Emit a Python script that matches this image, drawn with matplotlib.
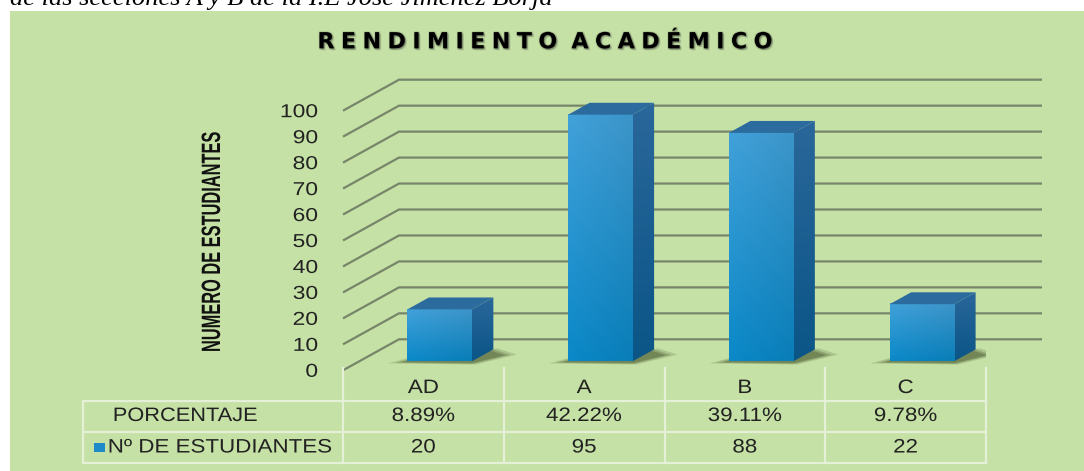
import numpy as np
import matplotlib
matplotlib.use('Agg')
import matplotlib.pyplot as plt
from matplotlib.patches import Polygon, Rectangle
from matplotlib.patheffects import AbstractPathEffect
from matplotlib.transforms import Affine2D, IdentityTransform, blended_transform_factory
from matplotlib.colors import to_rgb
from matplotlib.path import Path
from matplotlib.lines import Line2D

# ---------------- data ----------------
categories = ['AD', 'A', 'B', 'C']
students = [20, 95, 88, 22]
percentages = ['8.89%', '42.22%', '39.11%', '9.78%']
y_ticks = [0, 10, 20, 30, 40, 50, 60, 70, 80, 90, 100]
title = 'RENDIMIENTO ACADÉMICO'
y_label = 'NUMERO DE ESTUDIANTES'
row_labels = ['PORCENTAJE', 'Nº DE ESTUDIANTES']
caption = 'de las secciones A y B de la I.E José Jiménez Borja'

# ---------------- style ----------------
GREEN = '#C5E1A5'
GRID = '#77866a'
TABLE_LINE = '#e4f0d8'
TXT = '#222222'
FRONT_TOP, FRONT_BOT = '#3f9bd1', '#0a83c0'
SIDE_TOP, SIDE_BOT = '#2a679a', '#0b5587'
TOP_FACE = '#2c6b9d'
LEGEND_BLUE = '#1e8bc8'

plt.rcParams['font.family'] = ['Liberation Sans', 'DejaVu Sans']

W, H = 1084, 471
fig = plt.figure(figsize=(W / 100, H / 100), dpi=100)
fig.patch.set_facecolor('white')


def fx(x):
    return x / W


def fy(y):
    return 1 - y / H


class Stretch(AbstractPathEffect):
    """Draw text scaled along (sx) and across (sy) its baseline."""

    def __init__(self, sx=1.0, sy=1.0, anchor='center'):
        super().__init__()
        self.sx = sx
        self.sy = sy
        self.anchor = anchor

    def draw_path(self, renderer, gc, tpath, affine, rgbFace=None):
        ext = tpath.get_extents()
        if self.anchor == 'left':
            cx = ext.x0
        elif self.anchor == 'right':
            cx = ext.x1
        else:
            cx = (ext.x0 + ext.x1) / 2
        cy = (ext.y0 + ext.y1) / 2
        t = (Affine2D().translate(-cx, -cy).scale(self.sx, self.sy)
             .translate(cx, cy) + affine)
        renderer.draw_path(gc, tpath, t, rgbFace)


class LetterSpacing(AbstractPathEffect):
    """Add extra spacing between glyphs, with a soft shadow."""

    def __init__(self, spacing_px, shadow_color='#333333'):
        super().__init__()
        self.sp = spacing_px
        self.shadow_color = to_rgb(shadow_color)

    def draw_path(self, renderer, gc, tpath, affine, rgbFace=None):
        verts = affine.transform(tpath.vertices).copy()
        codes = tpath.codes
        starts = np.flatnonzero(codes == Path.MOVETO)
        bounds = list(zip(starts, list(starts[1:]) + [len(codes)]))
        ranges = [(verts[s:e, 0].min(), verts[s:e, 0].max()) for s, e in bounds]
        order = sorted(range(len(bounds)), key=lambda k: ranges[k][0])
        group = {}
        g = -1
        cur = -np.inf
        for k in order:
            x0, x1 = ranges[k]
            if x0 < cur - 1.0:
                cur = max(cur, x1)
            else:
                g += 1
                cur = x1
            group[k] = g
        ng = g + 1
        for k, (s, e) in enumerate(bounds):
            verts[s:e, 0] += (group[k] - (ng - 1) / 2) * self.sp
        path = Path(verts, codes)
        # soft shadow / blur
        for dx, dy, a in [(1.5, -1.5, 0.20), (0.8, -0.8, 0.25), (-0.8, 0.8, 0.12),
                          (1.5, 0.5, 0.15), (-0.5, -1.5, 0.15), (2.2, -2.2, 0.10)]:
            gc0 = renderer.new_gc()
            gc0.copy_properties(gc)
            gc0.set_alpha(a)
            gc0.set_linewidth(0)
            renderer.draw_path(gc0, path, Affine2D().translate(dx, dy), self.shadow_color)
            gc0.restore()
        renderer.draw_path(gc, path, IdentityTransform(), rgbFace)


# green panel
fig.add_artist(Rectangle((fx(10), 0), 1 - fx(10), fy(11), transform=fig.transFigure,
                         facecolor=GREEN, edgecolor='none', zorder=0))

# caption (cut at the top edge, as in the source)
fig.text(fx(10), fy(5), caption, ha='left', va='baseline', fontsize=19,
         style='italic', family='Liberation Serif', color='black')

# title
fig.text(fx(544.7), fy(48.3), title, ha='center', va='baseline', fontsize=16,
         fontweight='bold', family='DejaVu Sans', color='black',
         path_effects=[LetterSpacing(6.4)])

# y-axis label (condensed bold look)
fig.text(fx(212), fy(241.7), y_label, rotation=90, ha='center', va='center',
         fontsize=11.8, fontweight='bold', color='#111111',
         path_effects=[Stretch(sx=1.0, sy=1.62)])

# ---------------- axes (front plane) ----------------
Y0_PX, PX_PER_UNIT = 370.3, 2.596
X_LEFT_PX, COL_PX = 343.0, 160.75
YMAX = 115
ax = fig.add_axes([fx(X_LEFT_PX), fy(Y0_PX), 4 * COL_PX / W, YMAX * PX_PER_UNIT / H])
ax.patch.set_visible(False)
for s in ax.spines.values():
    s.set_visible(False)

# depth vector (front -> back wall), in data units
DX = 56 / COL_PX
DY = 31 / PX_PER_UNIT
PXX = 1 / COL_PX
PXY = 1 / PX_PER_UNIT

# back-wall gridlines
for v in y_ticks:
    ax.add_line(Line2D([-0.5, -0.5 + DX, 3.5 + DX], [v, v + DY, v + DY],
                       color=GRID, lw=1.6, clip_on=False, zorder=1,
                       solid_capstyle='butt'))


def grad_img(top, bottom, ny=64, nx=16, hshade=0.08):
    top = np.array(to_rgb(top))
    bottom = np.array(to_rgb(bottom))
    t = np.linspace(0, 1, ny)[:, None, None]
    c = bottom * (1 - t) + top * t
    h = np.linspace(0, 1, nx)[None, :, None]
    img = c * (1 + hshade * (0.5 - h))
    return np.clip(img, 0, 1)


front_img = grad_img(FRONT_TOP, FRONT_BOT)
side_img = grad_img(SIDE_TOP, SIDE_BOT, hshade=0.0)

F0 = 0.29      # depth of the bar front face
DEPTH = 0.384  # bar depth as fraction of floor depth
BW = 0.401     # bar width

for i, v in enumerate(students):
    x0 = i + F0 * DX - BW / 2
    x1 = x0 + BW
    yb = F0 * DY
    yt = v + yb
    ddx, ddy = DEPTH * DX, DEPTH * DY

    # soft floor shadow
    sh = np.array([(x0 - 12 * PXX, yb - 1.5 * PXY),
                   (x1 + 2 * PXX, yb - 2.5 * PXY),
                   (x1 + ddx + 17 * PXX, yb + ddy - 5.5 * PXY),
                   (x1 + ddx, yb + ddy),
                   (x0 + ddx * 0.3, yb + ddy * 0.3)])
    cen = sh.mean(axis=0)
    for f, a in [(1.12, 0.18), (1.0, 0.25), (0.9, 0.32)]:
        ax.add_patch(Polygon(cen + (sh - cen) * f, closed=True, facecolor='#3a4720',
                             edgecolor='none', alpha=a, zorder=2))

    # side face
    side = Polygon([(x1, yb), (x1 + ddx, yb + ddy), (x1 + ddx, yt + ddy), (x1, yt)],
                   closed=True, transform=ax.transData, facecolor='none', edgecolor='none')
    im = ax.imshow(side_img, extent=(x1, x1 + ddx, yb, yt + ddy), origin='lower',
                   aspect='auto', zorder=4, interpolation='bilinear')
    im.set_clip_path(side)

    # front face
    ax.imshow(front_img, extent=(x0, x1, yb, yt), origin='lower', aspect='auto',
              zorder=5, interpolation='bilinear')

    # top face
    ax.add_patch(Polygon([(x0, yt), (x1, yt), (x1 + ddx, yt + ddy), (x0 + ddx, yt + ddy)],
                         closed=True, facecolor=TOP_FACE, edgecolor='none', zorder=5))

ax.set_aspect('auto')
ax.set_xlim(-0.5, 3.5)
ax.set_ylim(0, YMAX)

ax.set_yticks(y_ticks)
ax.set_yticklabels([str(t) for t in y_ticks])
ax.tick_params(axis='y', length=0, pad=18, labelsize=13.5, labelcolor=TXT)
ax.set_xticks(range(len(categories)))
ax.set_xticklabels(categories)
ax.tick_params(axis='x', length=0, pad=7, labelsize=14, labelcolor=TXT)

# ---------------- data table ----------------
bt = blended_transform_factory(ax.transData, fig.transFigure)
for k in range(len(categories) + 1):
    xk = -0.5 + k
    ax.add_line(Line2D([xk, xk], [fy(368), fy(463)], transform=bt, color=TABLE_LINE,
                       lw=1.6, clip_on=False, zorder=1))
for ypx in (401, 432, 463):
    fig.add_artist(Line2D([fx(83), fx(986)], [fy(ypx), fy(ypx)], transform=fig.transFigure,
                          color=TABLE_LINE, lw=1.6, zorder=1))
fig.add_artist(Line2D([fx(83), fx(83)], [fy(401), fy(463)], transform=fig.transFigure,
                      color=TABLE_LINE, lw=1.6, zorder=1))

table_fx = [Stretch(sx=1.15)]
for i, (p, n) in enumerate(zip(percentages, students)):
    ax.text(i, fy(416.5), p, transform=bt, ha='center', va='center', fontsize=14,
            color=TXT, clip_on=False, path_effects=table_fx)
    ax.text(i, fy(448), str(n), transform=bt, ha='center', va='center', fontsize=14,
            color=TXT, clip_on=False, path_effects=table_fx)

fig.text(fx(113), fy(416.5), row_labels[0], ha='left', va='center', fontsize=14,
         color=TXT, path_effects=[Stretch(sx=1.12, anchor='left')])
fig.text(fx(108), fy(448), row_labels[1], ha='left', va='center', fontsize=14,
         color=TXT, path_effects=[Stretch(sx=1.15, anchor='left')])
fig.add_artist(Rectangle((fx(94), fy(452)), 11 / W, 9 / H, transform=fig.transFigure,
                         facecolor=LEGEND_BLUE, edgecolor='none'))

# apply stretch to tick labels
fig.canvas.draw()
for t in ax.get_yticklabels():
    t.set_path_effects([Stretch(sx=1.22, anchor='right')])
for t in ax.get_xticklabels():
    t.set_path_effects([Stretch(sx=1.15)])

fig.savefig('out.png', dpi=100, facecolor=fig.get_facecolor())
